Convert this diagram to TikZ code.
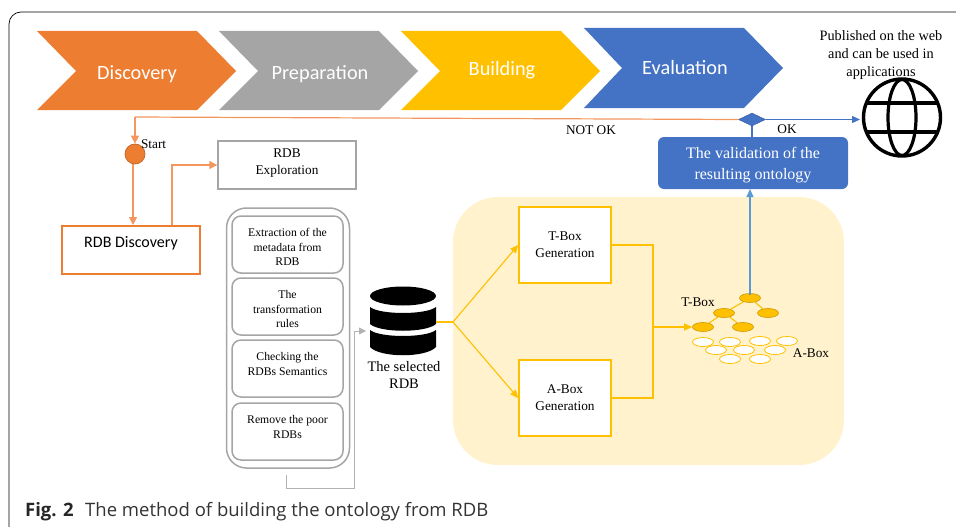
\documentclass[tikz,border=0pt]{standalone}
\usepackage{fontspec}
\setmainfont{Liberation Serif}
\newfontfamily\capfont{Open Sans}
\newfontfamily\boxfont{Carlito}
\usetikzlibrary{arrows.meta,shapes.geometric}
\definecolor{myorange}{HTML}{ED7D31}
\definecolor{mygray}{HTML}{A5A5A5}
\definecolor{myyellow}{HTML}{FFC000}
\definecolor{myblue}{HTML}{4472C4}
\definecolor{mypanel}{HTML}{FFF2CC}
\definecolor{mylightblue}{HTML}{5B9BD5}
\definecolor{mylineorange}{HTML}{F4975F}
\tikzset{
	stagetext/.style = {text=white, font=\boxfont\fontsize{20.3}{24}\selectfont},
	grayline/.style = {draw=mygray!85!white, line width=0.9pt, -{Triangle[length=7pt,width=7pt]}},
	orangeline/.style = {draw=mylineorange, line width=1.1pt, -{Triangle[length=8pt,width=8pt]}},
	yellowline/.style = {draw=myyellow, line width=1.1pt},
	yellowarrow/.style = {yellowline, -{Triangle[length=8pt,width=7pt]}},
	bluearrow/.style = {draw=mylightblue, line width=1.1pt, -{Triangle[length=8pt,width=7pt]}},
	stepbox/.style = {draw=mygray, line width=1.5pt, rounded corners=9pt, minimum width=111pt, minimum height=57pt, inner sep=0pt, align=center, font=\fontsize{11.7}{14.3}\selectfont},
	genbox/.style = {draw=myyellow, fill=white, line width=1.6pt, minimum width=92pt, minimum height=76pt, align=center, font=\fontsize{13.3}{17}\selectfont},
	filledoval/.style = {draw=myyellow!80!black, fill=myyellow, line width=0.6pt, ellipse, minimum width=21pt, minimum height=9pt, inner sep=0pt},
	openoval/.style = {draw=myyellow, fill=white, line width=0.8pt, ellipse, minimum width=21pt, minimum height=9pt, inner sep=0pt},
	tinylabel/.style = {font=\fontsize{13.3}{17}\selectfont, align=center},
}
\begin{document}
\begin{tikzpicture}[x=1pt,y=-1pt]
	\useasboundingbox (0,0) rectangle (956,527);
	% frame
	\draw[line width=0.7pt, rounded corners=12pt] (9,527) -- (9,12) -- (970,12);
	% stages
	\fill[myorange] (37,31) -- (197,31) -- (236,71) -- (197,110) -- (37,110) -- (76,71) -- cycle;
	\node[stagetext] (discovery) at (137,74) {Discovery};
	\fill[mygray] (219,31) -- (379,31) -- (418,71) -- (379,110) -- (219,110) -- (258,71) -- cycle;
	\node[stagetext] (preparation) at (320,74) {Preparation};
	\fill[myyellow] (401,31) -- (561,31) -- (600,71) -- (561,110) -- (401,110) -- (440,71) -- cycle;
	\node[stagetext] (building) at (502,70) {Building};
	\fill[myblue] (584,28) -- (744,28) -- (783,68) -- (744,108) -- (584,108) -- (622,68) -- cycle;
	\node[stagetext] (evaluation) at (685,68) {Evaluation};
	% left part
	\node[circle, draw=myorange!80!black, fill=myorange, line width=0.7pt, minimum size=20pt, inner sep=0pt] (start) at (135,154) {};
	\node[tinylabel, anchor=west] (startlabel) at (137.5,144) {Start};
	\node[draw=mygray, line width=1.4pt, minimum width=138pt, minimum height=48pt, tinylabel, text depth=7pt] (exploration) at (287,165) {RDB\\Exploration};
	\node[draw=myorange, line width=1.5pt, minimum width=138pt, minimum height=48pt] (rdbdiscovery) at (131,250) {};
	\node[font=\boxfont\fontsize{16}{19}\selectfont] (rdbdiscoverytext) at (131,243) {RDB Discovery};
	\coordinate (discin) at (133,225);
	\draw[orangeline] (discin |- start.south) -- (discin);
	\draw[orangeline] (172,225) |- (exploration.west);
	% steps
	\node[draw=mygray, line width=1.5pt, rounded corners=20pt, minimum width=123pt, minimum height=260pt] (stepsbox) at (288,338) {};
	\node[stepbox, text height=42pt] (stepa) at (287.5,244.5) {Extraction of the\\metadata from\\RDB};
	\node[stepbox, text height=42pt] (stepb) at (287.5,306.5) {The\\transformation\\rules};
	\node[stepbox, text depth=9pt] (stepc) at (287.5,368.5) {Checking the\\RDBs Semantics};
	\node[stepbox, text depth=9pt] (stepd) at (287.5,431.5) {Remove the poor\\RDBs};
	% selected rdb
	\fill (403,296) ellipse (33 and 9.5);
	\fill (370,307) .. controls (380,315) and (426,315) .. (436,307) -- (436,324) .. controls (426,333) and (380,333) .. (370,324) -- cycle;
	\fill (370,330) .. controls (380,338) and (426,338) .. (436,330) -- (436,347) .. controls (426,358) and (380,358) .. (370,347) -- cycle;
	\node[tinylabel, font=\fontsize{14.5}{17}\selectfont] (selected) at (404,374.5) {The selected\\RDB};
	\coordinate (rdbout) at (436,322);
	\draw[grayline] (286,475) -- (286,488) -- (354,488) -- (354,331) -- (366,331);
	% panel
	\fill[mypanel, rounded corners=45pt] (453,197) rectangle (844,465);
	\node[genbox] (tbox) at (565,245) {T-Box\\Generation};
	\node[genbox] (abox) at (565,398) {A-Box\\Generation};
	\coordinate (split) at (453,322);
	\coordinate (joint) at (653,327);
	\draw[yellowline] (rdbout) -- (split);
	\draw[yellowarrow] (split) -- (tbox.west);
	\draw[yellowarrow] (split) -- (abox.west);
	\draw[yellowline] (tbox.east) -| (joint) |- (abox.east);
	% tree
	\node[filledoval] (roott) at (750,298) {};
	\node[filledoval] (lefta) at (724,313) {};
	\node[filledoval] (righta) at (768,313) {};
	\node[filledoval] (leftb) at (703,327) {};
	\node[filledoval] (rightb) at (743,327) {};
	\draw[yellowline] (roott) -- (lefta);
	\draw[yellowline] (roott) -- (righta);
	\draw[yellowline] (lefta) -- (leftb);
	\draw[yellowline] (lefta) -- (rightb);
	\draw[yellowarrow] (joint) -- (leftb.west);
	\node[openoval] (opena) at (703,342) {};
	\node[openoval] (openb) at (730,342) {};
	\node[openoval] (openc) at (760,341) {};
	\node[openoval] (opend) at (787,341) {};
	\node[openoval] (opene) at (716,350) {};
	\node[openoval] (openf) at (744,350) {};
	\node[openoval] (openg) at (775,350) {};
	\node[openoval] (openh) at (730,359) {};
	\node[openoval] (openi) at (760,359) {};
	\node[tinylabel] (tboxlabel) at (698,302) {T-Box};
	\node[tinylabel] (aboxlabel) at (811,353) {A-Box};
	% validation
	\node[fill=myblue, rounded corners=6pt, minimum width=190pt, minimum height=52pt, text=white, align=center, text height=36pt, font=\fontsize{16}{21}\selectfont] (validation) at (753,163) {The validation of the\\resulting ontology};
	\node[diamond, aspect=2.2, fill=myblue, draw=myblue!80!black, minimum width=27pt, minimum height=13pt, inner sep=0pt] (decision) at (752,119.5) {};
	\draw[bluearrow] (750,295) -- (750,189);
	\draw[draw=myblue, line width=1.1pt] (validation.north -| decision) -- (decision);
	\coordinate (corner) at (135,117);
	\draw[draw=mylineorange, line width=1.2pt] (decision.west) -- (corner);
	\draw[orangeline] (corner) -- (start.north);
	\node[tinylabel] (notok) at (591,130) {NOT OK};
	\node[tinylabel] (ok) at (787,129) {OK};
	% web
	\node[circle, draw=black, line width=3.4pt, minimum size=77pt, inner sep=0pt] (globe) at (902,117.5) {};
	\draw[line width=3.2pt] (globe.center) ellipse (14 and 38);
	\draw[line width=3.2pt] (867,103) -- (937,103);
	\draw[line width=3.2pt] (867,132) -- (937,132);
	\coordinate (globein) at (860,119.5);
	\draw[bluearrow, draw=myblue] (decision.east) -- (globein);
	\node[tinylabel, font=\fontsize{14.3}{18}\selectfont] (published) at (881,55) {Published on the web\\and can be used in\\applications};
	% caption
	\node[anchor=base west, inner sep=0pt, font=\capfont\bfseries\fontsize{18.5}{22}\selectfont, text=black!85] (figlabel) at (25,516) {Fig. 2};
	\node[anchor=base west, inner sep=0pt, font=\capfont\fontsize{18.5}{22}\selectfont, text=black!80] (captiontext) at (85,516) {The method of building the ontology from RDB};
\end{tikzpicture}
\end{document}
